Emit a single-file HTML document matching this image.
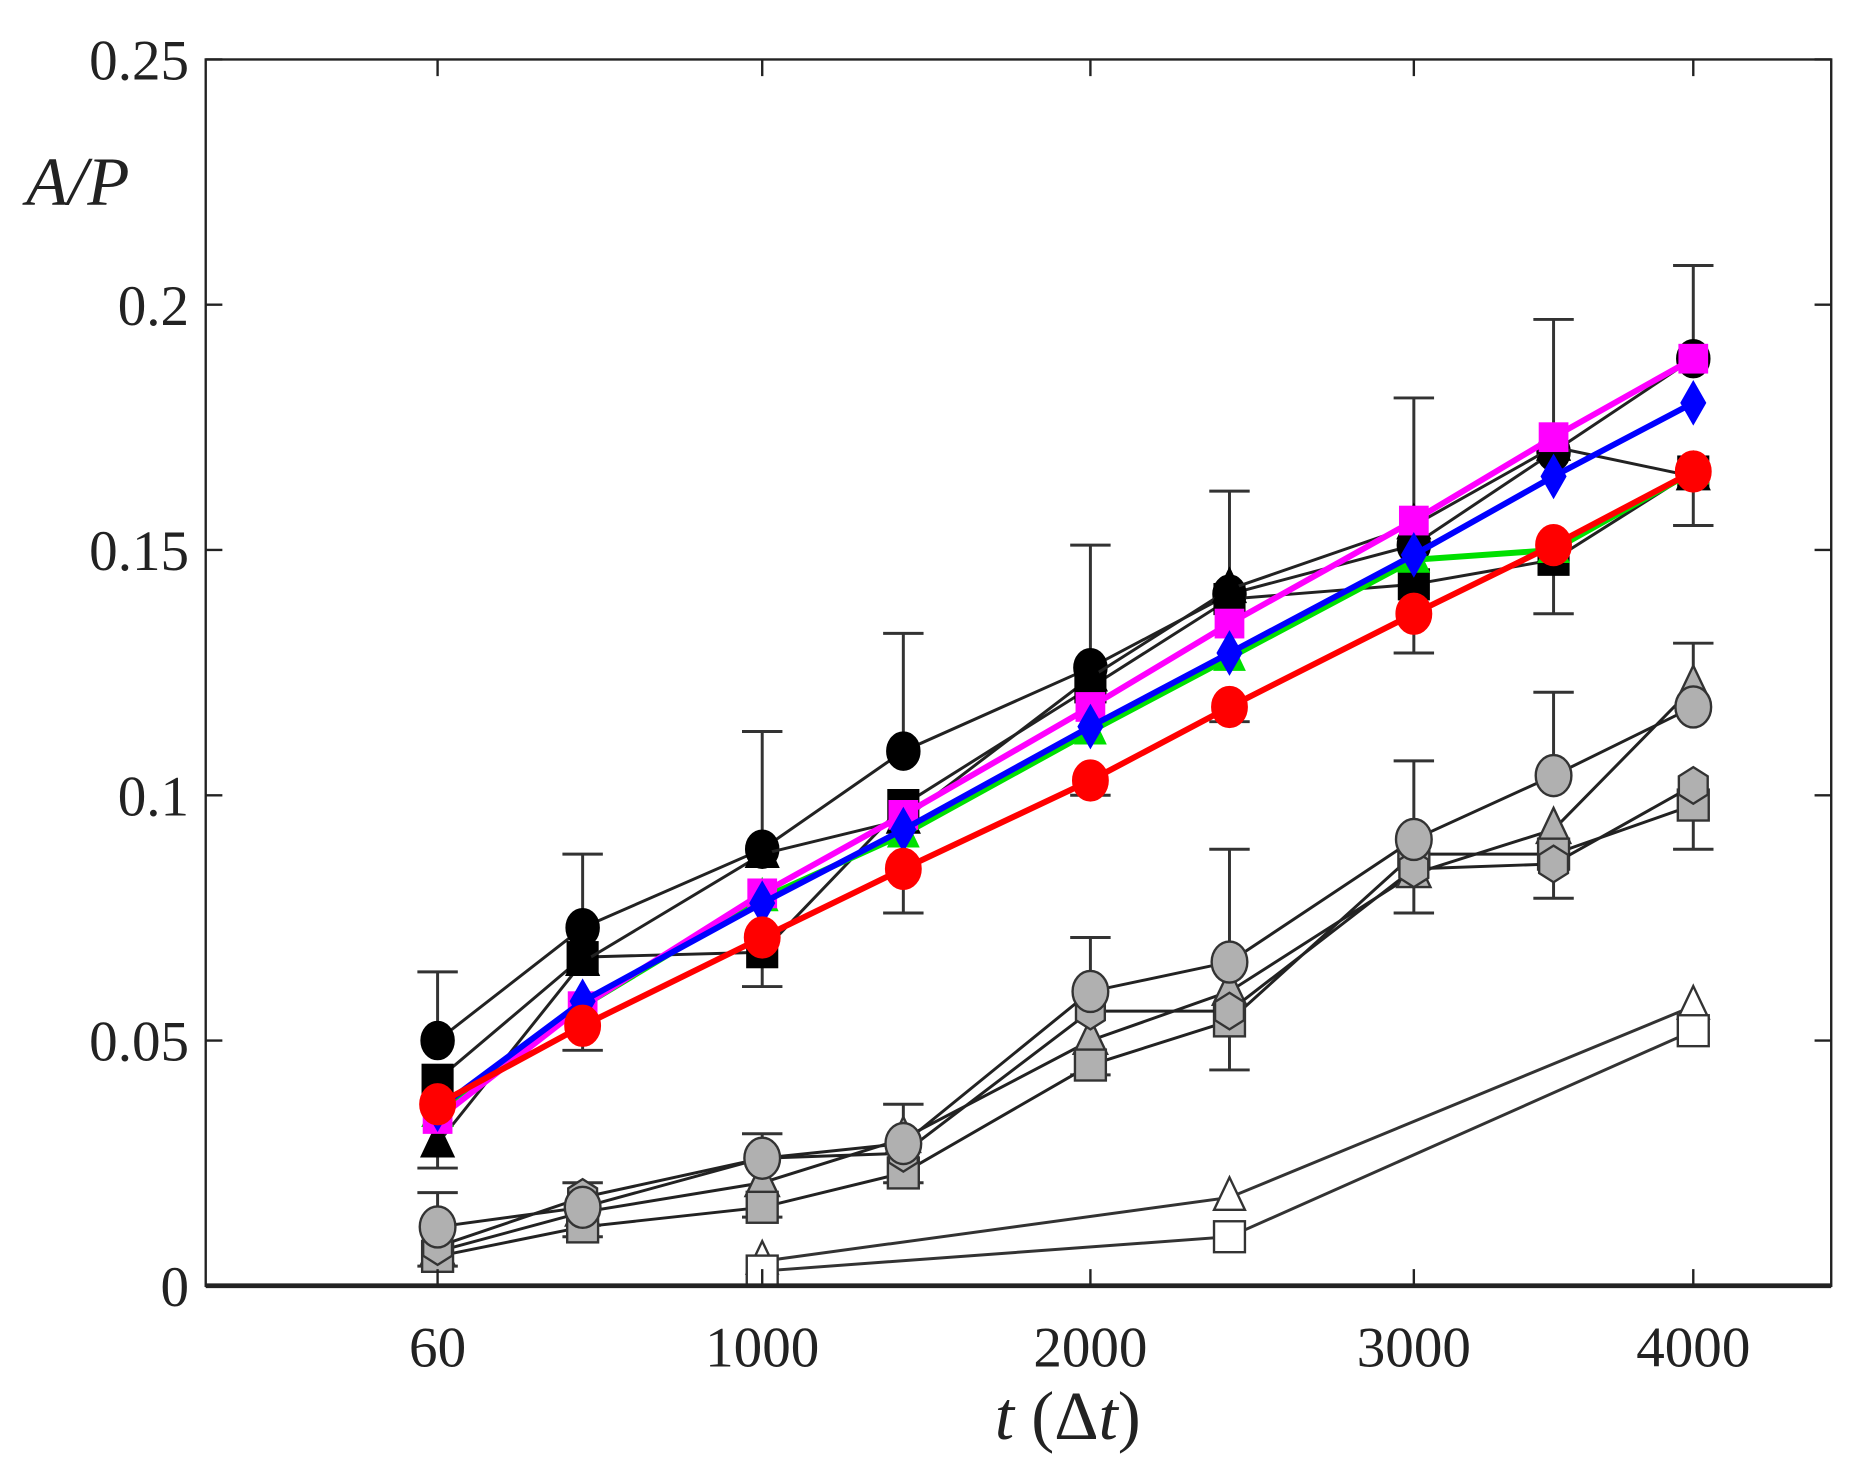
<!DOCTYPE html>
<html><head><meta charset="utf-8"><style>
html,body{margin:0;padding:0;background:#fff;width:1855px;height:1463px;overflow:hidden}
svg{display:block}
text{font-family:"Liberation Serif","DejaVu Serif",serif;fill:#222}
</style></head><body>
<svg id="chart" width="1855" height="1463" viewBox="0 0 1560 1230" preserveAspectRatio="none" xmlns="http://www.w3.org/2000/svg">
<g id="grid"></g>
<g id="series"></g>
<g id="frame"></g>
</svg>
<script>
const xTickVals=[60,1000,2000,3000,4000];
const xTickLabels=["60","1000","2000","3000","4000"];
const yTickVals=[0,0.05,0.1,0.15,0.2,0.25];
const yTickLabels=["0","0.05","0.1","0.15","0.2","0.25"];
const tVals=[60,480,1000,1430,2000,2430,3000,3500,4000];
const blackCircle=[0.050,0.073,0.089,0.109,0.126,0.141,0.151,0.170,0.189];
const blackSquare=[0.042,0.067,0.068,0.098,0.122,0.140,0.143,0.148,0.166];
const blackTriangle=[0.029,0.066,0.088,0.095,0.124,0.142,0.155,0.171,0.165];
const grayCircle=[0.012,0.016,0.026,0.029,0.060,0.066,0.091,0.104,0.118];
const graySquare=[0.006,0.012,0.016,0.023,0.045,0.054,0.088,0.088,0.098];
const grayHex=[0.008,0.018,0.026,0.027,0.056,0.056,0.085,0.086,0.102];
const grayTriangle=[0.007,0.015,0.021,0.030,0.050,0.060,0.084,0.093,0.122];
const whiteT=[1000,2430,4000];
const whiteTriangle=[0.005,0.018,0.057];
const whiteSquare=[0.003,0.010,0.052];
const greenTri=[0.035,0.057,0.079,0.092,0.113,0.128,0.148,0.150,0.166];
const blueDiamond=[0.036,0.058,0.078,0.093,0.114,0.129,0.149,0.165,0.180];
const magentaSquare=[0.034,0.057,0.080,0.096,0.118,0.135,0.156,0.173,0.189];
const redCircle=[0.037,0.053,0.071,0.085,0.103,0.118,0.137,0.151,0.166];
const blackErrHi=[0.064,0.088,0.113,0.133,0.151,0.162,0.181,0.197,0.208];
const redErrLo=[0.024,0.048,0.061,0.076,0.100,0.115,0.129,0.137,0.155];
const grayErrHi=[0.019,0.021,0.031,0.037,0.071,0.089,0.107,0.121,0.131];
const grayErrLo=[0.004,0.010,0.014,0.021,0.043,0.044,0.076,0.079,0.089];

const L=173,R=1540,T=50,B=1081;
const xAnchorPx=[368,641,917,1189,1424];
function X(t){for(let i=0;i<xTickVals.length-1;i++){if(t<=xTickVals[i+1]||i==xTickVals.length-2){const a=xTickVals[i],b=xTickVals[i+1];return xAnchorPx[i]+(t-a)/(b-a)*(xAnchorPx[i+1]-xAnchorPx[i]);}}}
function Y(v){return B-(v/0.25)*(B-T);}
const NS="http://www.w3.org/2000/svg";
function mk(tag,attrs,parent){const e=document.createElementNS(NS,tag);for(const k in attrs)e.setAttribute(k,attrs[k]);parent.appendChild(e);return e;}
const S=document.getElementById('series'),F=document.getElementById('frame');

function errbar(ends,bases,name){for(let i=0;i<tVals.length;i++){const x=X(tVals[i]);const g=mk('g',{stroke:'#333','stroke-width':2.5},S);


mk('line',{x1:x,x2:x,y1:Y(ends[i]),y2:Y(bases[i])},g);mk('line',{x1:x-17,x2:x+17,y1:Y(ends[i]),y2:Y(ends[i])},g);}}
errbar(blackErrHi,blackCircle,'black-error-bar');
errbar(redErrLo,redCircle,'red-error-bar');
errbar(grayErrHi,grayCircle,'gray-error-bar');
errbar(grayErrLo,graySquare,'gray-error-bar-low');

function marker(g,shape,x,y,r,fill,stroke,sw){
 if(shape=='circle')mk('ellipse',{cx:x,cy:y,rx:r,ry:r*1.15,fill,stroke,'stroke-width':sw},g);
 else if(shape=='square')mk('rect',{x:x-r,y:y-r,width:2*r,height:2*r,fill,stroke,'stroke-width':sw},g);
 else if(shape=='triangle')mk('polygon',{points:`${x},${y-r*1.3} ${x+r},${y+r*0.8} ${x-r},${y+r*0.8}`,fill,stroke,'stroke-width':sw},g);
 else if(shape=='diamond')mk('polygon',{points:`${x},${y-r*1.4} ${x+r*0.8},${y} ${x},${y+r*1.4} ${x-r*0.8},${y}`,fill,stroke,'stroke-width':sw},g);
 else if(shape=='hex'){let p=[];for(let k=0;k<6;k++){const a=Math.PI/6+k*Math.PI/3;p.push((x+r*Math.cos(a))+','+(y+r*1.1*Math.sin(a)));}mk('polygon',{points:p.join(' '),fill,stroke,'stroke-width':sw},g);}
}
function series(ts,vals,name,shape,line,lw,fill,stroke,r,sw){
 const g=mk('g',{},S);
 
 
 mk('polyline',{points:ts.map((t,i)=>X(t)+','+Y(vals[i])).join(' '),fill:'none',stroke:line,'stroke-width':lw},g);
 ts.forEach((t,i)=>marker(g,shape,X(t),Y(vals[i]),r,fill,stroke,sw));
}
series(tVals,blackCircle,'black-circle-series','circle','#222',2.5,'#000','#000',14,1);
series(tVals,blackSquare,'black-square-series','square','#222',2.5,'#000','#000',13,1);
series(tVals,blackTriangle,'black-triangle-series','triangle','#222',2.5,'#000','#000',14,1);
series(tVals,grayTriangle,'gray-triangle-series','triangle','#222',2.5,'#b0b0b0','#333',14,2);
series(tVals,graySquare,'gray-square-series','square','#222',2.5,'#b0b0b0','#333',13,2);
series(tVals,grayHex,'gray-hexagon-series','hex','#222',2.5,'#b0b0b0','#333',14,2);
series(tVals,grayCircle,'gray-circle-series','circle','#222',2.5,'#b0b0b0','#333',15,2);
series(whiteT,whiteTriangle,'white-triangle-series','triangle','#333',2.5,'#fff','#333',13,2);
series(whiteT,whiteSquare,'white-square-series','square','#333',2.5,'#fff','#333',13,2);
series(tVals,greenTri,'green-triangle-series','triangle','#00e000',5,'#00e000','#00e000',13,1);
series(tVals,magentaSquare,'magenta-square-series','square','#ff00ff',5,'#ff00ff','#ff00ff',12,1);
series(tVals,blueDiamond,'blue-diamond-series','diamond','#0000ff',5,'#0000ff','#0000ff',13,1);
series(tVals,redCircle,'red-circle-series','circle','#ff0000',5,'#ff0000','#ff0000',15,1);

const fr=mk('rect',{x:L,y:T,width:R-L,height:B-T,fill:'none',stroke:'#222','stroke-width':2},F);


const bl=mk('line',{x1:L,x2:R,y1:B,y2:B,stroke:'#222','stroke-width':4},F);


yTickVals.forEach((v,i)=>{const y=Y(v);
 mk('line',{x1:L,x2:L+14,y1:y,y2:y,stroke:'#222','stroke-width':2},F);
 mk('line',{x1:R,x2:R-14,y1:y,y2:y,stroke:'#222','stroke-width':2},F);
 const t=mk('text',{x:L-14,y:y+17,'text-anchor':'end','font-size':48},F);t.textContent=yTickLabels[i];
 
 
});
xTickVals.forEach((v,i)=>{const x=X(v);
 mk('line',{x1:x,x2:x,y1:B,y2:B-14,stroke:'#222','stroke-width':2},F);
 mk('line',{x1:x,x2:x,y1:T,y2:T+14,stroke:'#222','stroke-width':2},F);
 const t=mk('text',{x:x,y:B+68,'text-anchor':'middle','font-size':48},F);t.textContent=xTickLabels[i];
 
 
});
const yt=mk('text',{x:22,y:172,'font-size':58,'font-style':'italic'},F);yt.textContent='A/P';


const xt=mk('text',{x:898,y:1210,'text-anchor':'middle','font-size':58},F);


xt.innerHTML='<tspan font-style="italic">t</tspan> (Δ<tspan font-style="italic">t</tspan>)';
</script>
</body></html>
